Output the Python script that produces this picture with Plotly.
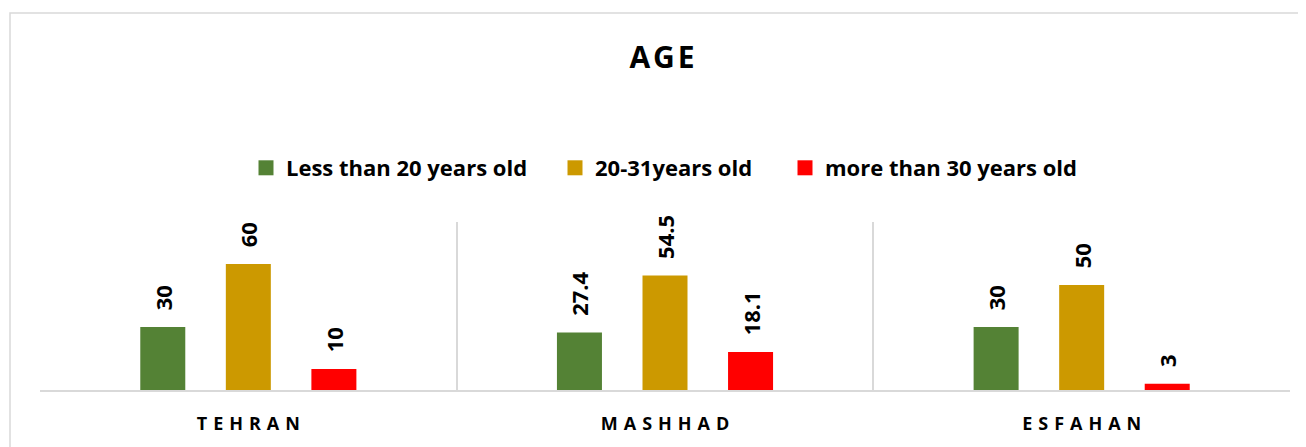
import plotly.graph_objects as go

# ---- data ----
cities = ["TEHRAN", "MASHHAD", "ESFAHAN"]
series_names = ["Less than 20 years old", "20-31years old", "more than 30 years old"]
less_than_20 = [30, 27.4, 30]
age_20_31 = [60, 54.5, 50]
more_than_30 = [10, 18.1, 3]
series_values = [less_than_20, age_20_31, more_than_30]
series_colors = ["#548235", "#CC9900", "#FF0000"]
chart_title = "AGE"

FONT = "Open Sans"
GRID = "#d9d9d9"
OFF = 8  # page body margin of the html page

W, H = 1306 - OFF, 447 - OFF
PL, PR, PT, PB = 40 - OFF, 1290 - OFF, 222 - OFF, 390 - OFF  # plot area in figure px
PW, PH = PR - PL, PB - PT

fig = go.Figure()

for name, vals, col in zip(series_names, series_values, series_colors):
    fig.add_trace(go.Bar(
        x=cities, y=vals, name=name,
        marker=dict(color=col, line=dict(width=0)),
        text=["\u00a0\u00a0\u200a" + str(v) for v in vals],
        textposition="outside", textangle=-90,
        textfont=dict(family=FONT, size=22, color="#000000", weight="bold"),
        constraintext="none", cliponaxis=False,
        showlegend=False, hoverinfo="skip",
    ))

# legend entries (square markers), one legend per entry for exact placement
legend_ids = ["legend", "legend2", "legend3"]
legend_x_page = [246, 555, 785]
for name, col, lid in zip(series_names, series_colors, legend_ids):
    fig.add_trace(go.Scatter(
        x=[None], y=[None], mode="markers", name=name,
        marker=dict(symbol="square", size=15, color=col),
        legend=lid, showlegend=True,
    ))

legend_font = dict(family=FONT, size=22, color="#000000", weight="bold")
legend_layout = {}
for lid, xpx in zip(legend_ids, legend_x_page):
    legend_layout[lid] = dict(
        orientation="h", xref="container", yref="container",
        x=(xpx - OFF) / W, xanchor="left", y=1 - (168 - OFF) / H, yanchor="middle",
        font=legend_font, bgcolor="rgba(0,0,0,0)", borderwidth=0,
    )

spaced = ["\u2009\u2009".join(list(c)) for c in cities]

fig.update_layout(
    width=W, height=H,
    margin=dict(l=PL, r=W - PR, t=PT, b=H - PB, pad=0),
    paper_bgcolor="white", plot_bgcolor="white",
    barmode="group", bargap=0.384, bargroupgap=0.474,
    title=dict(
        text="\u200a".join(list(chart_title)),
        font=dict(family=FONT, size=30, color="#000000", weight="bold"),
        xref="container", x=(662 - OFF) / W, xanchor="center",
        yref="container", y=1 - (57 - OFF) / H, yanchor="middle",
    ),
    xaxis=dict(
        type="category", tickvals=cities, ticktext=spaced,
        tickson="boundaries", showgrid=True, gridcolor=GRID, gridwidth=1.5,
        showline=True, linecolor=GRID, linewidth=2,
        ticks="", ticklabelstandoff=16,
        tickfont=dict(family=FONT, size=18, color="#000000", weight="bold"),
        fixedrange=True,
    ),
    yaxis=dict(
        range=[0, 80], showgrid=False, zeroline=False, showline=False,
        showticklabels=False, ticks="", fixedrange=True,
    ),
    shapes=[dict(
        type="rect", xref="paper", yref="paper",
        x0=(10 - OFF - PL) / PW, x1=(1340 - OFF - PL) / PW,
        y0=(PB - (470 - OFF)) / PH, y1=(PB - (13 - OFF)) / PH,
        line=dict(color=GRID, width=1.5), fillcolor="rgba(0,0,0,0)", layer="below",
    )],
    **legend_layout,
)

fig.write_html("out.html")
